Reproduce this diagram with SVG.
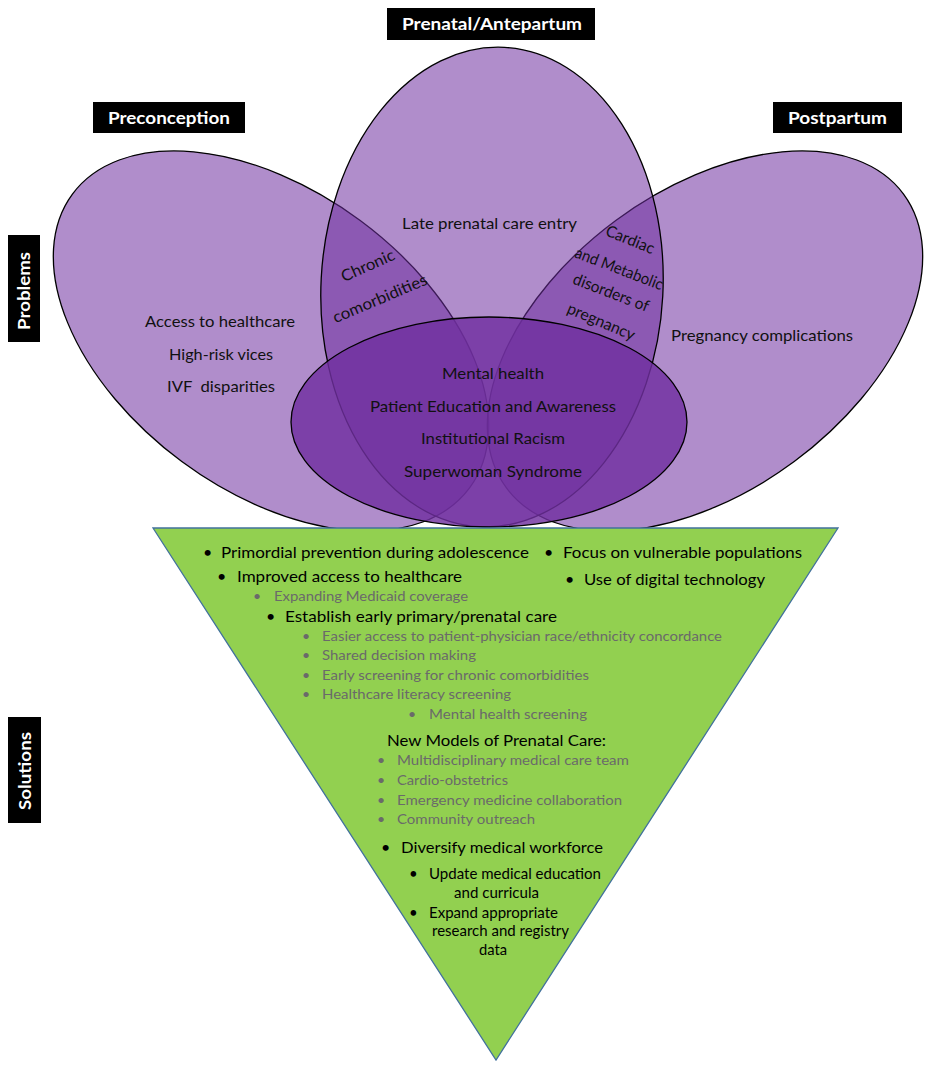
<svg xmlns="http://www.w3.org/2000/svg" width="938" height="1071" viewBox="0 0 938 1071">
<style>
  text { font-family: Lato, "Liberation Sans", "DejaVu Sans", sans-serif; }
  .lblbox { fill: #000; }
  .lbl { fill: #fff; font-weight: 700; font-size: 17px; }
  .outer { fill: #7030A0; fill-opacity: 0.55; stroke: #000; stroke-width: 1.3; }
  .inner { fill: #7030A0; fill-opacity: 0.82; stroke: #000; stroke-width: 1.3; }
  .v { fill: #111; font-size: 16px; }
  .tri { fill: #92D050; stroke: #41719C; stroke-width: 1.3; }
  .b { fill: #000; font-size: 16px; }
  .bs { fill: #000; font-size: 15px; }
  .g { fill: #6a6a6a; font-size: 14px; }
</style>
<rect width="938" height="1071" fill="#fff"/>

<g id="preconception">
  <ellipse class="outer" cx="271" cy="341" rx="247" ry="150" transform="rotate(36.5 271 341)"/>
</g>
<g id="postpartum">
  <ellipse class="outer" cx="705" cy="341" rx="247" ry="150" transform="rotate(-36.5 705 341)"/>
</g>
<g id="prenatal">
  <ellipse class="outer" cx="492" cy="287" rx="171" ry="240" transform="rotate(3 492 287)"/>
</g>
<g id="shared">
  <ellipse class="inner" cx="489" cy="422" rx="198" ry="105"/>
</g>

<g id="solutions">
  <polygon class="tri" points="153,528 838,528 496,1060"/>
</g>

<g id="connectors"/>

<g id="preconception-text">
  <text class="v" x="145" y="327" textLength="150" lengthAdjust="spacingAndGlyphs">Access to healthcare</text>
  <text class="v" x="169" y="360" textLength="104" lengthAdjust="spacingAndGlyphs">High-risk vices</text>
  <text class="v" x="167" y="392" textLength="108" lengthAdjust="spacingAndGlyphs" style="white-space:pre">IVF  disparities</text>
</g>
<g id="prenatal-text">
  <text class="v" x="402" y="229" textLength="175" lengthAdjust="spacingAndGlyphs">Late prenatal care entry</text>
</g>
<g id="postpartum-text">
  <text class="v" x="671" y="341" textLength="182" lengthAdjust="spacingAndGlyphs">Pregnancy complications</text>
</g>
<g id="preconception-prenatal-overlap">
  <text class="v" text-anchor="middle" transform="translate(368 266) rotate(-24)" y="5" textLength="57" lengthAdjust="spacingAndGlyphs">Chronic</text>
  <text class="v" text-anchor="middle" transform="translate(380 299) rotate(-23)" y="5" textLength="101" lengthAdjust="spacingAndGlyphs">comorbidities</text>
</g>
<g id="prenatal-postpartum-overlap">
  <text class="v" text-anchor="middle" transform="translate(630 240) rotate(22)" y="5" textLength="51" lengthAdjust="spacingAndGlyphs">Cardiac</text>
  <text class="v" text-anchor="middle" transform="translate(619 269) rotate(21)" y="5" textLength="93" lengthAdjust="spacingAndGlyphs">and Metabolic</text>
  <text class="v" text-anchor="middle" transform="translate(611 293) rotate(21)" y="5" textLength="80" lengthAdjust="spacingAndGlyphs">disorders of</text>
  <text class="v" text-anchor="middle" transform="translate(601 322) rotate(23)" y="5" textLength="72" lengthAdjust="spacingAndGlyphs">pregnancy</text>
</g>
<g id="shared-text">
  <text class="v" x="442" y="379" textLength="102" lengthAdjust="spacingAndGlyphs">Mental health</text>
  <text class="v" x="370" y="412" textLength="246" lengthAdjust="spacingAndGlyphs">Patient Education and Awareness</text>
  <text class="v" x="421" y="444" textLength="144" lengthAdjust="spacingAndGlyphs">Institutional Racism</text>
  <text class="v" x="404" y="477" textLength="178" lengthAdjust="spacingAndGlyphs">Superwoman Syndrome</text>
</g>

<g id="solutions-text">
  <text class="b" x="203" y="558">•</text>
  <text class="b" x="221" y="558" textLength="308" lengthAdjust="spacingAndGlyphs">Primordial prevention during adolescence</text>
  <text class="b" x="544" y="558">•</text>
  <text class="b" x="563" y="558" textLength="239" lengthAdjust="spacingAndGlyphs">Focus on vulnerable populations</text>
  <text class="b" x="217" y="582">•</text>
  <text class="b" x="237" y="582" textLength="225" lengthAdjust="spacingAndGlyphs">Improved access to healthcare</text>
  <text class="b" x="565" y="585">•</text>
  <text class="b" x="584" y="585" textLength="181" lengthAdjust="spacingAndGlyphs">Use of digital technology</text>
  <text class="g" x="253" y="601">•</text>
  <text class="g" x="274" y="601" textLength="194" lengthAdjust="spacingAndGlyphs">Expanding Medicaid coverage</text>
  <text class="b" x="266" y="622">•</text>
  <text class="b" x="285" y="622" textLength="272" lengthAdjust="spacingAndGlyphs">Establish early primary/prenatal care</text>
  <text class="g" x="302" y="641">•</text>
  <text class="g" x="322" y="641" textLength="400" lengthAdjust="spacingAndGlyphs">Easier access to patient-physician race/ethnicity concordance</text>
  <text class="g" x="302" y="660">•</text>
  <text class="g" x="322" y="660" textLength="154" lengthAdjust="spacingAndGlyphs">Shared decision making</text>
  <text class="g" x="302" y="680">•</text>
  <text class="g" x="322" y="680" textLength="267" lengthAdjust="spacingAndGlyphs">Early screening for chronic comorbidities</text>
  <text class="g" x="302" y="699">•</text>
  <text class="g" x="322" y="699" textLength="189" lengthAdjust="spacingAndGlyphs">Healthcare literacy screening</text>
  <text class="g" x="408" y="719">•</text>
  <text class="g" x="429" y="719" textLength="158" lengthAdjust="spacingAndGlyphs">Mental health screening</text>
  <text class="b" x="387" y="746" textLength="219" lengthAdjust="spacingAndGlyphs">New Models of Prenatal Care:</text>
  <text class="g" x="377" y="765">•</text>
  <text class="g" x="397" y="765" textLength="232" lengthAdjust="spacingAndGlyphs">Multidisciplinary medical care team</text>
  <text class="g" x="377" y="785">•</text>
  <text class="g" x="397" y="785" textLength="111" lengthAdjust="spacingAndGlyphs">Cardio-obstetrics</text>
  <text class="g" x="377" y="805">•</text>
  <text class="g" x="397" y="805" textLength="225" lengthAdjust="spacingAndGlyphs">Emergency medicine collaboration</text>
  <text class="g" x="377" y="824">•</text>
  <text class="g" x="397" y="824" textLength="138" lengthAdjust="spacingAndGlyphs">Community outreach</text>
  <text class="b" x="381" y="853">•</text>
  <text class="b" x="401" y="853" textLength="202" lengthAdjust="spacingAndGlyphs">Diversify medical workforce</text>
  <text class="bs" x="409" y="879">•</text>
  <text class="bs" x="429" y="879" textLength="172" lengthAdjust="spacingAndGlyphs">Update medical education</text>
  <text class="bs" x="454" y="898" textLength="85" lengthAdjust="spacingAndGlyphs">and curricula</text>
  <text class="bs" x="409" y="918">•</text>
  <text class="bs" x="429" y="918" textLength="129" lengthAdjust="spacingAndGlyphs">Expand appropriate</text>
  <text class="bs" x="432" y="936" textLength="137" lengthAdjust="spacingAndGlyphs">research and registry</text>
  <text class="bs" x="479" y="955" textLength="28" lengthAdjust="spacingAndGlyphs">data</text>
</g>

<g id="label-prenatal">
  <rect class="lblbox" x="387" y="8" width="208" height="32"/>
  <text class="lbl" x="402" y="30" textLength="180" lengthAdjust="spacingAndGlyphs">Prenatal/Antepartum</text>
</g>
<g id="label-preconception">
  <rect class="lblbox" x="93" y="102" width="152" height="31"/>
  <text class="lbl" x="108" y="124" textLength="122" lengthAdjust="spacingAndGlyphs">Preconception</text>
</g>
<g id="label-postpartum">
  <rect class="lblbox" x="773" y="102" width="129" height="31"/>
  <text class="lbl" x="788" y="124" textLength="99" lengthAdjust="spacingAndGlyphs">Postpartum</text>
</g>
<g id="label-problems">
  <rect class="lblbox" x="8" y="235" width="32" height="107"/>
  <text class="lbl" text-anchor="middle" transform="translate(24 291) rotate(-90)" y="6" textLength="78" lengthAdjust="spacingAndGlyphs">Problems</text>
</g>
<g id="label-solutions">
  <rect class="lblbox" x="8" y="717" width="33" height="106"/>
  <text class="lbl" text-anchor="middle" transform="translate(24.5 771) rotate(-90)" y="6" textLength="78" lengthAdjust="spacingAndGlyphs">Solutions</text>
</g>
</svg>
